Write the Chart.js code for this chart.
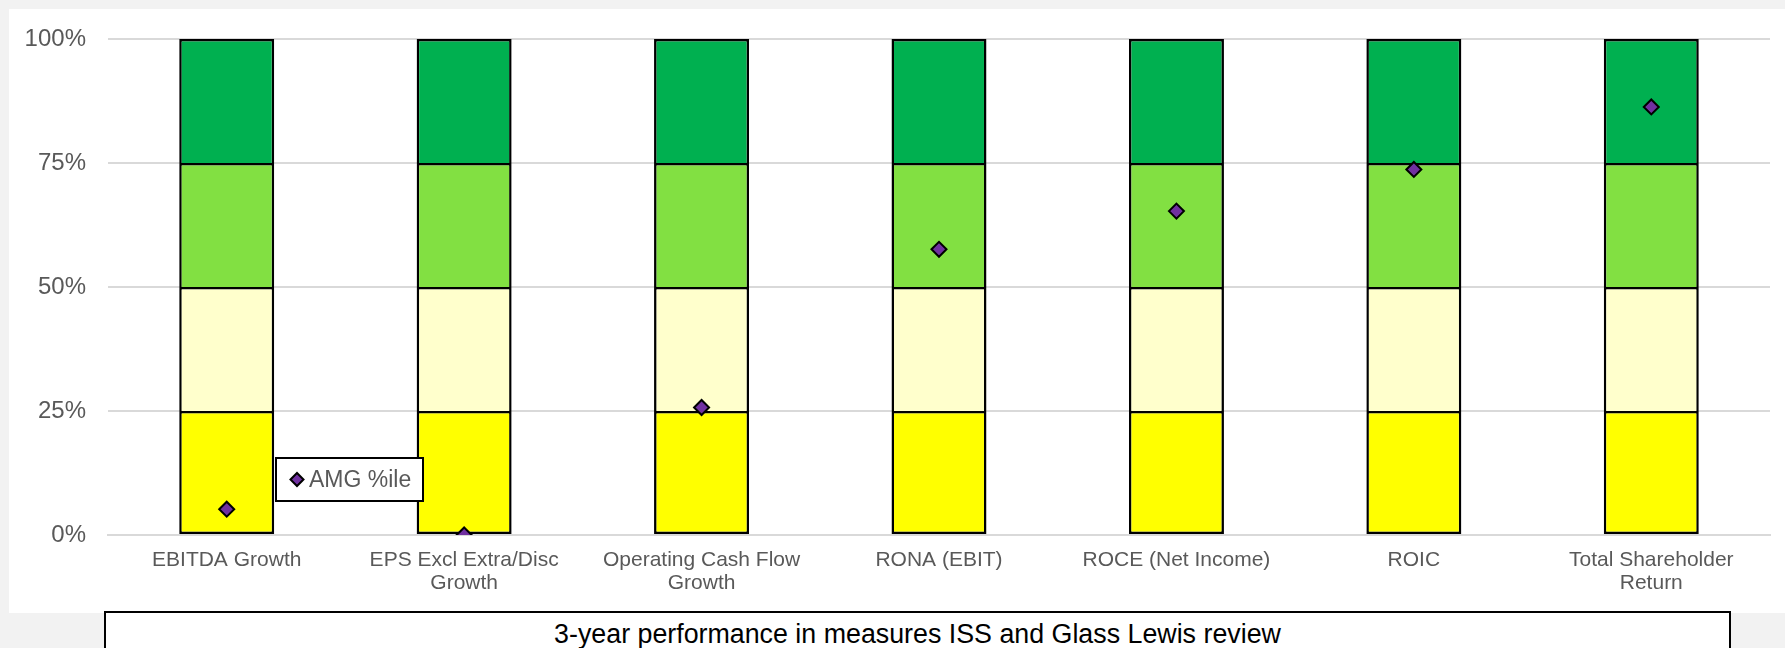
<!DOCTYPE html>
<html>
<head>
<meta charset="utf-8">
<title>3-year performance</title>
<script src="https://cdn.jsdelivr.net/npm/chart.js@4.4.1/dist/chart.umd.min.js"></script>
<style>
  html, body { margin: 0; padding: 0; }
  body {
    width: 1785px; height: 648px; overflow: hidden;
    background: #f2f2f2; position: relative;
    font-family: "Liberation Sans", Arial, sans-serif;
  }
  #panel {
    position: absolute; left: 9px; top: 9px;
    width: 1776px; height: 604px; background: #ffffff;
  }
  #panel canvas { display: block; }
  #caption {
    position: absolute; left: 104px; top: 611px;
    width: 1627px; height: 60px; box-sizing: border-box;
    border: 2px solid #000; background: #fff;
    text-align: center; font-size: 26.8px; line-height: 30px;
    padding-top: 6px; color: #000;
  }
</style>
</head>
<body>
<div id="panel"><canvas id="chart" width="1776" height="604"></canvas></div>
<div id="caption">3-year performance in measures ISS and Glass Lewis review</div>
<script>
// Measures compared against the peer group
const categories = [
  'EBITDA Growth',
  ['EPS Excl Extra/Disc', 'Growth'],
  ['Operating Cash Flow', 'Growth'],
  'RONA (EBIT)',
  'ROCE (Net Income)',
  'ROIC',
  ['Total Shareholder', 'Return']
];

// Quartile bands (each band spans 25 percentile points)
const quartile1 = [25, 25, 25, 25, 25, 25, 25];
const quartile2 = [25, 25, 25, 25, 25, 25, 25];
const quartile3 = [25, 25, 25, 25, 25, 25, 25];
const quartile4 = [25, 25, 25, 25, 25, 25, 25];

// AMG percentile rank for each measure
const amgPercentile = [5.2, 0, 25.7, 57.6, 65.3, 73.7, 86.3];

// Value axis ticks
const yTickValues = [0, 25, 50, 75, 100];
const yTickLabels = ['0%', '25%', '50%', '75%', '100%'];

const FONT = '"Liberation Sans", Arial, sans-serif';
const TEXT_GREY = '#595959';
const GRID_GREY = '#d9d9d9';

// Plot area geometry inside the canvas
const PLOT_LEFT = 99;
const PLOT_TOP = 30;
const PLOT_BOTTOM = 526;
const X_AXIS_HEIGHT = 60;

function band(label, data, color, isBase) {
  return {
    type: 'bar',
    label: label,
    data: data,
    backgroundColor: color,
    borderColor: '#000000',
    borderWidth: 2.5,
    borderSkipped: isBase ? false : 'start',
    stack: 'quartiles',
    categoryPercentage: 0.4,
    barPercentage: 1.0,
    order: 1
  };
}

// Boxed legend entry for the percentile marker, placed inside the plot
const markerLegend = {
  id: 'markerLegend',
  afterDatasetsDraw(chart, args, opts) {
    const ds = chart.data.datasets.find(d => d.type === 'line');
    const ctx = chart.ctx;
    const x = opts.x, y = opts.y, w = opts.width, h = opts.height;
    ctx.save();
    ctx.fillStyle = '#ffffff';
    ctx.fillRect(x, y, w, h);
    ctx.lineWidth = 2;
    ctx.strokeStyle = '#000000';
    ctx.strokeRect(x, y, w, h);
    const cy = y + h / 2;
    ctx.fillStyle = ds.backgroundColor;
    ctx.strokeStyle = ds.borderColor;
    Chart.helpers.drawPoint(ctx, {
      pointStyle: 'rectRot', radius: 6.5, borderWidth: 2, rotation: 0
    }, x + 21, cy);
    ctx.fillStyle = TEXT_GREY;
    ctx.font = '23px ' + FONT;
    ctx.textBaseline = 'middle';
    ctx.textAlign = 'left';
    ctx.fillText(ds.label, x + 33, cy + 1);
    ctx.restore();
  }
};

new Chart(document.getElementById('chart'), {
  data: {
    labels: categories,
    datasets: [
      {
        type: 'line',
        label: 'AMG %ile',
        data: amgPercentile,
        showLine: false,
        pointStyle: 'rectRot',
        pointRadius: 7.5,
        pointHoverRadius: 7.5,
        pointBorderWidth: 2,
        backgroundColor: '#7030A0',
        borderColor: '#000000',
        stack: 'marker',
        order: 0
      },
      band('Bottom quartile', quartile1, '#FFFF00', true),
      band('Second quartile', quartile2, '#FFFFCC', false),
      band('Third quartile', quartile3, '#82E042', false),
      band('Top quartile', quartile4, '#00B050', false)
    ]
  },
  options: {
    responsive: false,
    animation: false,
    devicePixelRatio: 1,
    layout: {
      padding: {
        left: 0,
        top: PLOT_TOP,
        right: 15,
        bottom: 604 - PLOT_BOTTOM - X_AXIS_HEIGHT
      }
    },
    plugins: {
      legend: { display: false },
      tooltip: { enabled: false },
      markerLegend: { x: 267, y: 449, width: 147, height: 43 }
    },
    scales: {
      x: {
        stacked: true,
        afterFit(scale) { scale.height = X_AXIS_HEIGHT; },
        grid: { display: false, drawTicks: false },
        border: { display: true, color: GRID_GREY, width: 2 },
        ticks: {
          color: TEXT_GREY,
          font: { family: FONT, size: 21, lineHeight: 1.1 },
          padding: 14,
          maxRotation: 0,
          autoSkip: false
        }
      },
      y: {
        stacked: true,
        min: 0,
        max: 100,
        afterFit(scale) {
          scale.width = PLOT_LEFT;
          // the layout padding already leaves room for the end labels
          scale.paddingTop = 0;
          scale.paddingBottom = 0;
        },
        afterBuildTicks(scale) {
          scale.ticks = yTickValues.map(v => ({ value: v }));
        },
        grid: { color: GRID_GREY, lineWidth: 2, drawTicks: false },
        border: { display: false },
        ticks: {
          color: TEXT_GREY,
          font: { family: FONT, size: 24 },
          padding: 22,
          callback: (v) => yTickLabels[yTickValues.indexOf(v)]
        }
      }
    }
  },
  plugins: [markerLegend]
});
</script>
</body>
</html>
